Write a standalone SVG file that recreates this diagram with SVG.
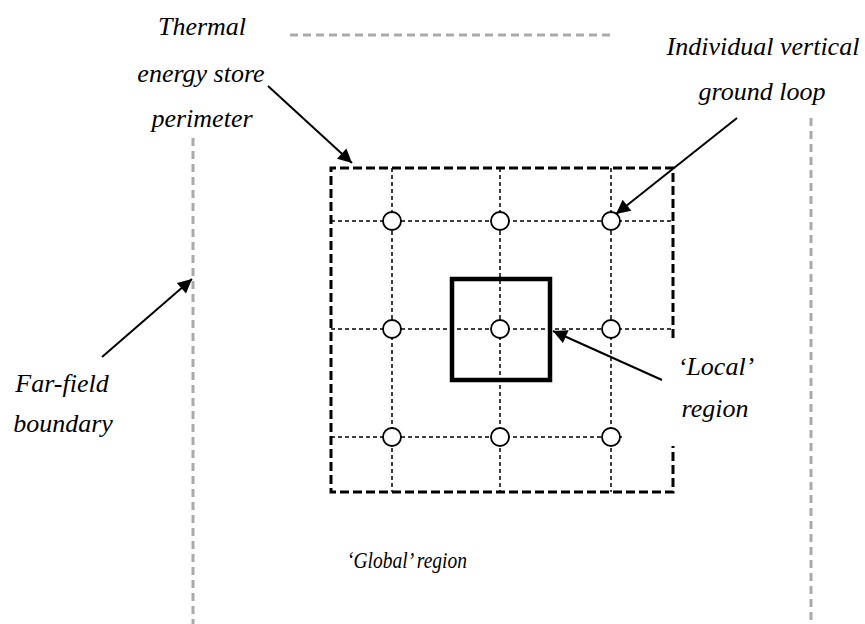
<svg xmlns="http://www.w3.org/2000/svg" width="865" height="624" viewBox="0 0 865 624">
<style>
text{font-family:'Liberation Serif',serif;font-style:italic;fill:#000;text-anchor:middle}
.lbl{font-size:26px}
.glob{font-size:22.5px}
.far{fill:none;stroke:#aaaaaa;stroke-width:3;stroke-dasharray:8 5}
.per{fill:none;stroke:#000;stroke-width:3;stroke-dasharray:9 4}
.grid{fill:none;stroke:#000;stroke-width:1.5;stroke-dasharray:4 3}
.loop{fill:#fff;stroke:#000;stroke-width:1.8}
.local{fill:none;stroke:#000;stroke-width:4.5}
.arr{fill:none;stroke:#000;stroke-width:2;marker-end:url(#ah)}
</style>
<defs>
<marker id="ah" viewBox="0 0 10 10" refX="10" refY="5" markerWidth="8" markerHeight="7" markerUnits="strokeWidth" orient="auto">
<path d="M0,0 L10,5 L0,10 z" fill="#000"/>
</marker>
</defs>
<rect width="865" height="624" fill="#fff"/>
<g id="far-field-boundary">
<line class="far" x1="290" y1="35" x2="615" y2="35"/>
<line class="far" x1="193" y1="138" x2="193" y2="624"/>
<line class="far" x1="811" y1="118" x2="811" y2="624"/>
</g>
<g id="grid">
<line class="grid" x1="331" y1="221" x2="673" y2="221"/>
<line class="grid" x1="331" y1="329" x2="673" y2="329"/>
<line class="grid" x1="331" y1="437" x2="625" y2="437"/>
<line class="grid" x1="392" y1="168" x2="392" y2="492"/>
<line class="grid" x1="500" y1="168" x2="500" y2="492"/>
<line class="grid" x1="611" y1="168" x2="611" y2="492"/>
</g>
<g id="perimeter">
<path class="per" d="M673,338 L673,168 L331,168 L331,492 L673,492 L673,446"/>
</g>
<g id="local-region">
<rect class="local" x="452" y="279" width="98" height="101"/>
</g>
<g id="ground-loops">
<circle class="loop" cx="392" cy="221" r="9"/>
<circle class="loop" cx="500" cy="221" r="9"/>
<circle class="loop" cx="611" cy="221" r="9"/>
<circle class="loop" cx="392" cy="329" r="9"/>
<circle class="loop" cx="500" cy="329" r="9"/>
<circle class="loop" cx="611" cy="329" r="9"/>
<circle class="loop" cx="392" cy="437" r="9"/>
<circle class="loop" cx="500" cy="437" r="9"/>
<circle class="loop" cx="611" cy="437" r="9"/>
</g>
<g id="connectors">
<line class="arr" x1="268" y1="86" x2="352" y2="163"/>
<line class="arr" x1="737" y1="118" x2="616" y2="214"/>
<line class="arr" x1="102" y1="357" x2="192" y2="279"/>
<line class="arr" x1="662" y1="380" x2="553" y2="331"/>
</g>
<g id="label-thermal">
<text class="lbl" x="202" y="35">Thermal</text>
<text class="lbl" x="201" y="82">energy store</text>
<text class="lbl" x="202" y="127">perimeter</text>
</g>
<g id="label-loop">
<text class="lbl" x="763" y="55">Individual vertical</text>
<text class="lbl" x="762" y="100">ground loop</text>
</g>
<g id="label-far">
<text class="lbl" x="62" y="392">Far-field</text>
<text class="lbl" x="63" y="432">boundary</text>
</g>
<g id="label-local">
<text class="lbl" x="716" y="375">‘Local’</text>
<text class="lbl" x="715" y="417">region</text>
</g>
<g id="label-global">
<text class="glob" x="407" y="568" textLength="120" lengthAdjust="spacingAndGlyphs">‘Global’ region</text>
</g>
</svg>
